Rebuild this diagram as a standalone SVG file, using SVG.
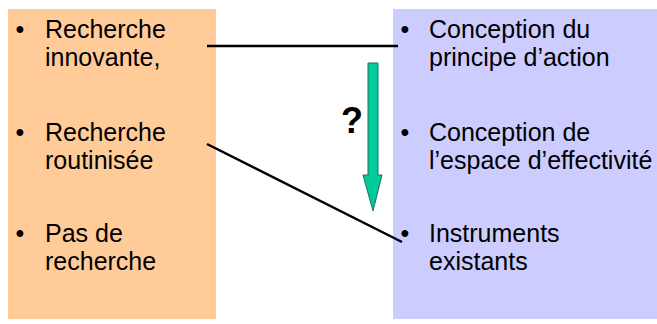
<svg xmlns="http://www.w3.org/2000/svg" width="657" height="324" viewBox="0 0 657 324">
<style>
.t{font-family:"Liberation Sans",Arial,sans-serif;font-size:25px;fill:#000}
.b{text-anchor:middle}
.ln{stroke:#000;stroke-width:2.5;fill:none}
</style>
<rect width="657" height="324" fill="#fff"/>
<g id="left">
<rect x="8" y="9" width="208" height="310" fill="#FFCC99"/>
<text class="t b" x="20" y="38">•</text>
<text class="t" x="45" y="38">Recherche</text>
<text class="t" x="45" y="66">innovante,</text>
<text class="t b" x="20" y="141">•</text>
<text class="t" x="45" y="141">Recherche</text>
<text class="t" x="45" y="169">routinisée</text>
<text class="t b" x="20" y="242">•</text>
<text class="t" x="45" y="242">Pas de</text>
<text class="t" x="45" y="270">recherche</text>
</g>
<g id="right">
<rect x="393" y="9" width="264" height="310" fill="#CCCCFF"/>
<text class="t b" x="405" y="38">•</text>
<text class="t" x="429" y="38">Conception du</text>
<text class="t" x="429" y="66">principe d’action</text>
<text class="t b" x="405" y="141">•</text>
<text class="t" x="429" y="141">Conception de</text>
<text class="t" x="429" y="169">l’espace d’effectivité</text>
<text class="t b" x="405" y="242">•</text>
<text class="t" x="429" y="242">Instruments</text>
<text class="t" x="429" y="270">existants</text>
</g>
<g id="connectors">
<line class="ln" x1="207" y1="46" x2="398" y2="46"/>
<line class="ln" x1="207" y1="144" x2="402" y2="242"/>
</g>
<g id="arrow">
<polygon points="368,63 378,63 378,175 382,175 373,211 363,175 368,175" fill="#00CC99" stroke="#207060" stroke-width="1"/>
<text x="352" y="133" text-anchor="middle" style="font-family:'Liberation Sans',Arial,sans-serif;font-size:36px;font-weight:bold">?</text>
</g>
</svg>
